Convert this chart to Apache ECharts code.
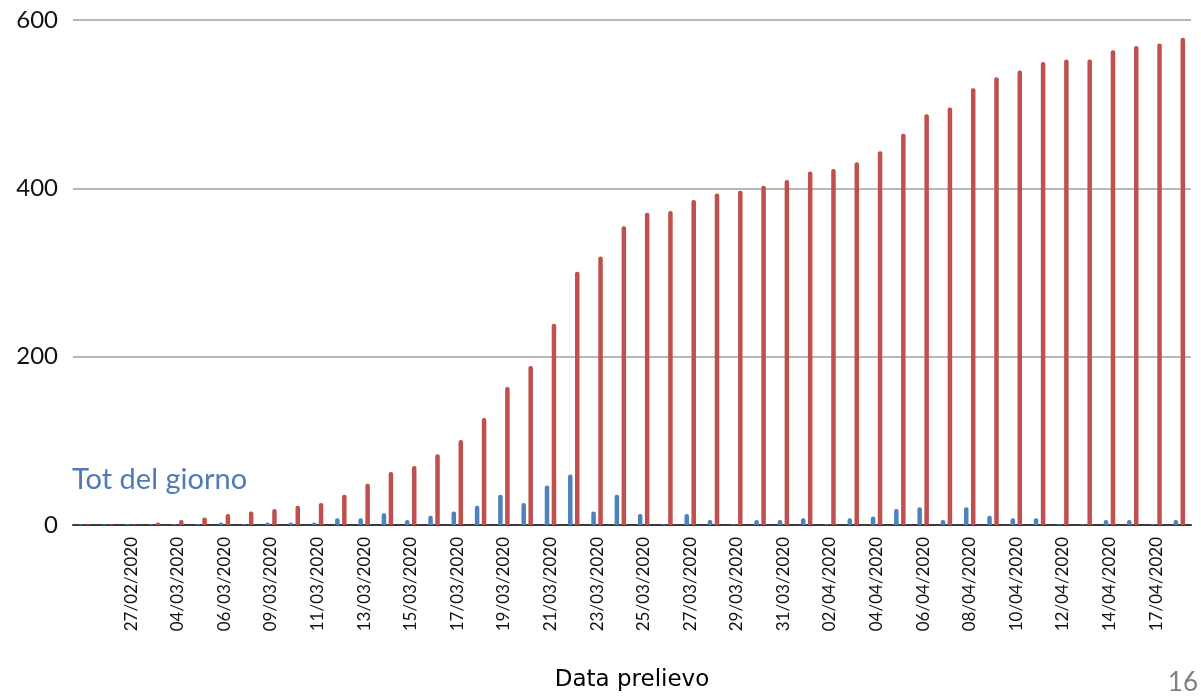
<!DOCTYPE html>
<html>
<head>
<meta charset="utf-8">
<script src="https://cdn.jsdelivr.net/npm/echarts@6/dist/echarts.min.js"></script>
<style>
html,body{margin:0;padding:0;background:#fff;overflow:hidden;}
#chart{width:1201px;height:697px;}
</style>
</head>
<body>
<div id="chart"></div>
<script>
const categories = [
  '24/02/2020','26/02/2020','27/02/2020','02/03/2020','04/03/2020','05/03/2020',
  '06/03/2020','07/03/2020','09/03/2020','10/03/2020','11/03/2020','12/03/2020',
  '13/03/2020','14/03/2020','15/03/2020','16/03/2020','17/03/2020','18/03/2020',
  '19/03/2020','20/03/2020','21/03/2020','22/03/2020','23/03/2020','24/03/2020',
  '25/03/2020','26/03/2020','27/03/2020','28/03/2020','29/03/2020','30/03/2020',
  '31/03/2020','01/04/2020','02/04/2020','03/04/2020','04/04/2020','05/04/2020',
  '06/04/2020','07/04/2020','08/04/2020','09/04/2020','10/04/2020','11/04/2020',
  '12/04/2020','13/04/2020','14/04/2020','15/04/2020','17/04/2020','18/04/2020'
];
const dailyValues = [
  1,1,1,1,1,1, 3,1,3,3,3,8, 8,14,6,11,16,23, 36,26,47,60,16,36,
  13,1,13,6,1,6, 6,8,1,8,10,19, 21,6,21,11,8,8, 1,1,6,6,1,6
];
const cumulativeValues = [
  1,1,1,3,6,9, 13,16,19,23,26,36, 49,63,70,84,101,127, 164,189,239,301,319,355,
  371,373,386,394,397,403, 410,420,423,431,444,465, 488,496,519,532,540,550,
  553,553,564,569,572,579
];
const yTicks = { min: 0, max: 600, interval: 200 };
const dailyName = 'Tot del giorno';
const cumulativeName = 'Totale progressivo';
const axisTitle = 'Data prelievo';
const pageNumber = '16';

const chart = echarts.init(document.getElementById('chart'), null, { renderer: 'canvas' });
chart.setOption({
  animation: false,
  backgroundColor: '#ffffff',
  textStyle: { fontFamily: 'Lato' },
  grid: { left: 73, right: 10, top: 20, bottom: 170, containLabel: false },
  xAxis: {
    type: 'category',
    data: categories,
    name: axisTitle,
    nameLocation: 'middle',
    nameGap: 144,
    nameTextStyle: { fontSize: 23, color: '#000', fontFamily: 'DejaVu Sans' },
    axisLine: { show: true, lineStyle: { color: '#3a3a3a', width: 2 } },
    axisTick: { show: false },
    axisLabel: {
      interval: function (idx) { return idx > 0 && idx % 2 === 0; },
      rotate: 90,
      fontSize: 17,
      color: '#111',
      margin: 12,
      fontFamily: 'Lato'
    },
    splitLine: { show: false }
  },
  yAxis: {
    type: 'value',
    min: yTicks.min,
    max: yTicks.max,
    interval: yTicks.interval,
    axisLine: { show: false },
    axisTick: { show: false },
    axisLabel: { fontSize: 24, color: '#111', margin: 15, fontFamily: 'Lato' },
    splitLine: { lineStyle: { color: '#b8b8b8', width: 2 } }
  },
  series: [
    {
      name: dailyName,
      type: 'bar',
      data: dailyValues,
      barWidth: 4.5,
      barGap: '55%',
      itemStyle: { color: '#4f81bd', borderRadius: [2, 2, 0, 0] }
    },
    {
      name: cumulativeName,
      type: 'bar',
      data: cumulativeValues,
      barWidth: 4.5,
      barGap: '55%',
      itemStyle: { color: '#c0504d', borderRadius: [2, 2, 0, 0] }
    }
  ],
  graphic: [
    {
      type: 'text',
      left: 70,
      top: 463,
      z: 100,
      style: {
        text: dailyName,
        fontSize: 29,
        fontFamily: 'Lato',
        fill: '#4f7cb8',
        stroke: '#ffffff',
        lineWidth: 4
      }
    },
    {
      type: 'text',
      right: 3,
      top: 670,
      style: {
        text: pageNumber,
        fontSize: 26,
        fontFamily: 'Lato',
        fill: '#808080'
      }
    }
  ]
});
</script>
</body>
</html>
